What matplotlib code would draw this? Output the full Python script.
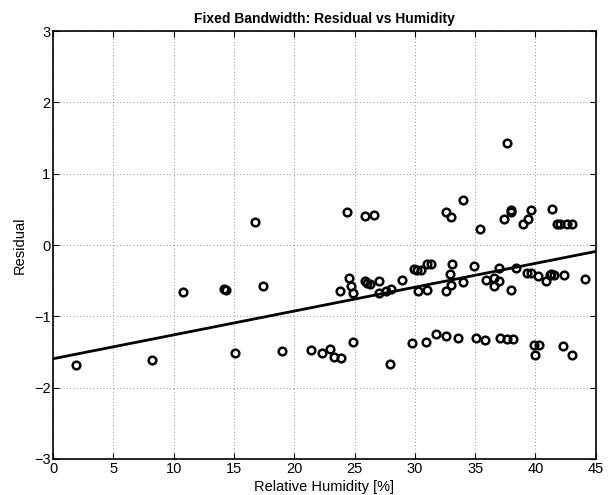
import matplotlib
matplotlib.use("Agg")
import matplotlib.pyplot as plt

# relative humidity [%] and residual
humidity = [1.9, 8.2, 10.8, 14.2, 14.3, 16.7, 17.4, 15.1, 19.0, 21.4, 22.3, 23.0, 23.3, 23.9,
            24.4, 23.8, 24.5, 24.7, 24.9, 24.9, 25.9, 26.6, 25.9, 26.0, 26.3, 27.0, 27.0,
            27.6, 28.0, 28.9, 29.9, 30.2, 30.5, 31.0, 31.3, 30.3, 31.0, 32.6, 33.0, 32.9,
            33.1, 34.0, 34.9, 27.9, 29.8, 30.9, 31.75, 32.55, 33.6, 35.1, 32.6, 33.0, 34.0,
            35.4, 37.6, 37.4, 38.0, 38.0, 39.0, 39.4, 39.6, 41.4, 41.75, 42.0, 42.6, 43.0,
            35.9, 36.6, 37.0, 36.6, 37.0, 38.0, 38.4, 39.3, 39.6, 40.2, 40.9, 41.2, 41.3,
            41.5, 42.4, 44.1, 35.8, 37.1, 37.6, 38.1, 39.9, 40.3, 40.0, 42.25, 43.0]
residual = [-1.69, -1.61, -0.655, -0.61, -0.625, 0.325, -0.57, -1.51, -1.49, -1.47, -1.51,
            -1.455, -1.57, -1.59, 0.465, -0.64, -0.465, -0.58, -0.675, -1.36, 0.41, 0.42,
            -0.50, -0.535, -0.55, -0.50, -0.675, -0.64, -0.62, -0.49, -0.34, -0.35, -0.35,
            -0.27, -0.27, -0.65, -0.63, -0.64, -0.56, -0.40, -0.27, -0.52, -0.30, -1.67,
            -1.37, -1.36, -1.255, -1.27, -1.31, -1.30, 0.47, 0.395, 0.63, 0.23, 1.43, 0.37,
            0.49, 0.47, 0.30, 0.37, 0.49, 0.51, 0.29, 0.29, 0.29, 0.29, -0.49, -0.46, -0.50,
            -0.58, -0.32, -0.63, -0.325, -0.395, -0.395, -0.43, -0.50, -0.42, -0.41, -0.42,
            -0.42, -0.48, -1.335, -1.31, -1.325, -1.325, -1.40, -1.40, -1.54, -1.42, -1.54]

# linear fit end points
fit_x = [0, 45]
fit_y = [-1.595, -0.09]

plt.rcParams['font.family'] = ['Liberation Sans', 'DejaVu Sans']

fig = plt.figure(figsize=(6.11, 4.95), dpi=100)
ax = fig.add_axes([0.087, 0.073, 0.888, 0.864])

ax.plot(humidity, residual, 'o', mfc='none', mec='black', ms=5.5, mew=1.8)
ax.plot(fit_x, fit_y, '-', color='black', lw=2)

ax.set_xlim(0, 45)
ax.set_ylim(-3, 3)
ax.set_xticks(range(0, 46, 5))
ax.set_yticks(range(-3, 4))
ax.grid(True, linestyle=(0, (1, 3)), color='black', lw=0.6, alpha=0.6)
ax.tick_params(direction='in', top=True, right=True, labelsize=10.5, length=4.5, pad=2)
for s in ax.spines.values():
    s.set_linewidth(1.2)

ax.set_xlabel('Relative Humidity [%]', fontsize=10.5, labelpad=3)
ax.set_ylabel('Residual', fontsize=10.5, labelpad=5)
ax.set_title('Fixed Bandwidth: Residual vs Humidity', fontsize=10, fontweight='bold', pad=6)

fig.savefig('out.png', dpi=100)
